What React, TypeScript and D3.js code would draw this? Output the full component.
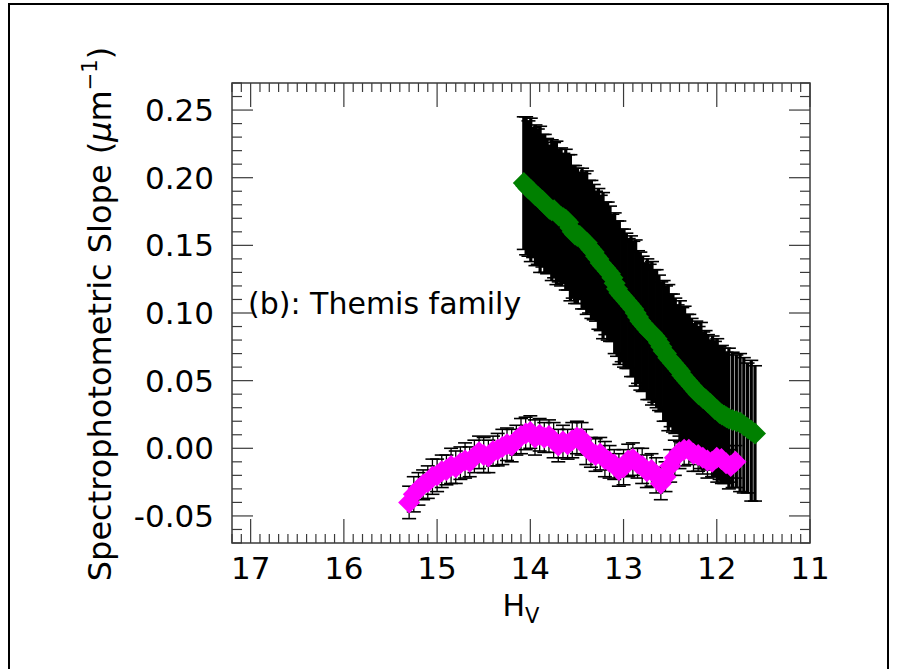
import React from 'react';
import * as d3 from 'd3';

// ---------- data ----------
const greenH = [14.07,14.045,14.02,13.995,13.97,13.945,13.92,13.895,13.87,13.845,13.82,13.795,13.77,13.745,13.72,13.695,13.67,13.645,13.62,13.595,13.57,13.545,13.52,13.495,13.47,13.445,13.42,13.395,13.37,13.345,13.32,13.295,13.27,13.245,13.22,13.195,13.17,13.145,13.12,13.095,13.07,13.045,13.02,12.995,12.97,12.945,12.92,12.895,12.87,12.845,12.82,12.795,12.77,12.745,12.72,12.695,12.67,12.645,12.62,12.595,12.57,12.545,12.52,12.495,12.47,12.445,12.42,12.395,12.37,12.345,12.32,12.295,12.27,12.245,12.22,12.195,12.17,12.145,12.12,12.095,12.07,12.045,12.02,11.995,11.97,11.945,11.92,11.895,11.87,11.83,11.79,11.75,11.71,11.67,11.63,11.59];
const greenSlope = [0.196,0.194,0.192,0.191,0.189,0.187,0.186,0.184,0.183,0.181,0.179,0.177,0.176,0.176,0.174,0.172,0.171,0.170,0.169,0.167,0.163,0.160,0.158,0.157,0.157,0.155,0.153,0.152,0.149,0.147,0.145,0.142,0.140,0.137,0.135,0.133,0.131,0.129,0.126,0.122,0.118,0.115,0.113,0.111,0.109,0.107,0.105,0.103,0.100,0.097,0.094,0.092,0.090,0.088,0.086,0.085,0.083,0.081,0.078,0.075,0.072,0.070,0.067,0.065,0.063,0.061,0.059,0.057,0.054,0.052,0.050,0.048,0.046,0.044,0.042,0.040,0.039,0.037,0.036,0.034,0.033,0.031,0.029,0.028,0.026,0.025,0.024,0.023,0.022,0.021,0.020,0.019,0.017,0.015,0.013,0.011];
const greenErr = [0.049,0.051,0.050,0.053,0.048,0.052,0.050,0.054,0.049,0.051,0.050,0.047,0.052,0.050,0.053,0.049,0.051,0.048,0.052,0.050,0.054,0.049,0.051,0.050,0.047,0.052,0.050,0.053,0.049,0.051,0.050,0.048,0.052,0.050,0.054,0.049,0.051,0.050,0.047,0.052,0.050,0.053,0.049,0.051,0.050,0.048,0.052,0.050,0.054,0.049,0.051,0.050,0.047,0.052,0.050,0.053,0.049,0.051,0.050,0.048,0.052,0.050,0.054,0.049,0.051,0.050,0.047,0.052,0.050,0.053,0.049,0.051,0.050,0.048,0.052,0.050,0.054,0.049,0.051,0.050,0.047,0.052,0.050,0.053,0.049,0.051,0.050,0.048,0.052,0.050,0.049,0.051,0.050,0.048,0.052,0.050];

const magentaH = [15.30,15.25,15.20,15.15,15.10,15.05,15.00,14.95,14.90,14.85,14.80,14.75,14.70,14.65,14.60,14.55,14.50,14.45,14.40,14.35,14.30,14.25,14.20,14.15,14.10,14.05,14.00,13.95,13.90,13.85,13.80,13.75,13.70,13.65,13.60,13.55,13.50,13.45,13.40,13.35,13.30,13.25,13.20,13.15,13.10,13.05,13.00,12.95,12.90,12.85,12.80,12.75,12.70,12.65,12.60,12.55,12.50,12.45,12.40,12.35,12.30,12.25,12.20,12.15,12.10,12.05,12.00,11.95,11.90,11.85,11.80];
const magentaSlope = [-0.040,-0.034,-0.030,-0.027,-0.025,-0.021,-0.020,-0.017,-0.016,-0.013,-0.014,-0.011,-0.009,-0.010,-0.006,-0.003,-0.005,-0.006,-0.002,-0.001,0.001,0.003,0.002,0.006,0.009,0.011,0.012,0.008,0.010,0.008,0.009,0.006,0.002,0.005,0.003,0.006,0.008,0.007,0.001,-0.003,-0.005,-0.004,-0.008,-0.010,-0.012,-0.016,-0.014,-0.009,-0.008,-0.011,-0.013,-0.017,-0.016,-0.020,-0.026,-0.021,-0.013,-0.007,-0.003,-0.001,-0.001,-0.004,-0.005,-0.007,-0.009,-0.010,-0.007,-0.008,-0.011,-0.013,-0.010];
const magentaErr = [0.012,0.013,0.012,0.011,0.012,0.013,0.012,0.012,0.011,0.013,0.012,0.012,0.013,0.011,0.012,0.012,0.013,0.012,0.011,0.012,0.013,0.012,0.012,0.011,0.013,0.012,0.012,0.013,0.012,0.011,0.012,0.013,0.012,0.012,0.011,0.013,0.012,0.012,0.013,0.011,0.012,0.012,0.013,0.012,0.011,0.012,0.013,0.012,0.012,0.011,0.013,0.012,0.012,0.013,0.012,0.011,0.012,0.013,0.012,0.012,0.011,0.013,0.012,0.012,0.013,0.011,0.012,0.012,0.013,0.012,0.012];

const xMajorTicks = [17, 16, 15, 14, 13, 12, 11];
const yMajorTicks = [-0.05, 0.0, 0.05, 0.10, 0.15, 0.20, 0.25];
const yTickLabels = ['-0.05', '0.00', '0.05', '0.10', '0.15', '0.20', '0.25'];
const xDomain = [17.2, 11];
const yDomain = [-0.07, 0.27];

const annotation = '(b): Themis family';

// ---------- layout ----------
const W = 897, H = 669;
const L = 232, R = 810, T = 83, B = 543;
const FONT = 'DejaVu Sans, sans-serif';
const AXIS = '#3a3a3a';

export default function App() {
  const x = d3.scaleLinear().domain(xDomain).range([L, R]);
  const y = d3.scaleLinear().domain(yDomain).range([B, T]);

  const xMinor = d3.range(0, 63).map((i) => +(17.2 - i * 0.1).toFixed(2));
  const yMinor = d3.range(0, 35).map((i) => +(-0.07 + i * 0.01).toFixed(3));
  const isXMajor = (v: number) => Math.abs(v - Math.round(v)) < 1e-6;
  const isYMajor = (v: number) => Math.abs(v / 0.05 - Math.round(v / 0.05)) < 1e-6;

  const r = 11;
  const cap = 7;
  const diamond = (cx: number, cy: number) =>
    `M${cx},${cy - r}L${cx + r},${cy}L${cx},${cy + r}L${cx - r},${cy}Z`;

  const errBars = (hs: number[], vs: number[], es: number[], vw: number) =>
    hs.map((h, i) => {
      const cx = x(h);
      const y1 = y(vs[i] + es[i]);
      const y2 = y(vs[i] - es[i]);
      return (
        <g key={i}>
          <line x1={cx} x2={cx} y1={y1} y2={y2} stroke="#000" strokeWidth={vw} />
          <line x1={cx - cap} x2={cx + cap} y1={y1} y2={y1} stroke="#000" strokeWidth={1.6} />
          <line x1={cx - cap} x2={cx + cap} y1={y2} y2={y2} stroke="#000" strokeWidth={1.6} />
        </g>
      );
    });

  return (
    <svg
      width={W}
      height={H}
      style={{ position: 'absolute', left: 0, top: 0, background: '#fff' }}
      fontFamily={FONT}
    >
      <rect x={0} y={0} width={W} height={H} fill="#fff" />
      {/* outer frame */}
      <path d={`M9,${H + 5}V4H888V${H + 5}`} fill="none" stroke="#000" strokeWidth={2} />

      {/* green series error bars + diamonds */}
      <g>{errBars(greenH, greenSlope, greenErr, 3.2)}</g>
      <g fill="#008000">
        {greenH.map((h, i) => (
          <path key={i} d={diamond(x(h), y(greenSlope[i]))} />
        ))}
      </g>

      {/* magenta series */}
      <g>{errBars(magentaH, magentaSlope, magentaErr, 1.3)}</g>
      <g fill="#ff00ff">
        {magentaH.map((h, i) => (
          <path key={i} d={diamond(x(h), y(magentaSlope[i]))} />
        ))}
      </g>

      {/* axes frame */}
      <rect x={L} y={T} width={R - L} height={B - T} fill="none" stroke={AXIS} strokeWidth={1.5} />
      {xMinor.map((v, i) => {
        const len = isXMajor(v) ? 24 : 9;
        const px = x(v);
        return (
          <g key={'xm' + i} stroke={AXIS} strokeWidth={1.2}>
            <line x1={px} x2={px} y1={B} y2={B - len} />
            <line x1={px} x2={px} y1={T} y2={T + len} />
          </g>
        );
      })}
      {yMinor.map((v, i) => {
        const len = isYMajor(v) ? 21 : 10;
        const py = y(v);
        return (
          <g key={'ym' + i} stroke={AXIS} strokeWidth={1.2}>
            <line x1={L} x2={L + len} y1={py} y2={py} />
            <line x1={R} x2={R - len} y1={py} y2={py} />
          </g>
        );
      })}

      {/* tick labels */}
      <g fontSize={31} fill="#000">
        {xMajorTicks.map((v) => (
          <text key={'xl' + v} x={x(v)} y={579} textAnchor="middle">
            {String(v)}
          </text>
        ))}
        {yMajorTicks.map((v, i) => (
          <text key={'yl' + v} x={214} y={y(v) + 11} textAnchor="end">
            {yTickLabels[i]}
          </text>
        ))}
      </g>

      {/* axis titles */}
      <text x={(L + R) / 2} y={616} fontSize={30} textAnchor="middle" fill="#000">
        H
        <tspan fontSize={21} dy={7}>V</tspan>
      </text>
      <text
        transform={`translate(111,314) rotate(-90)`}
        fontSize={32}
        textAnchor="middle"
        fill="#000"
      >
        Spectrophotometric Slope (
        <tspan fontStyle="italic">μ</tspan>m
        <tspan fontSize={21} dy={-14}>−1</tspan>
        <tspan dy={14}>)</tspan>
      </text>

      {/* annotation */}
      <text x={248} y={314} fontSize={30} fill="#000">
        {annotation}
      </text>
    </svg>
  );
}
